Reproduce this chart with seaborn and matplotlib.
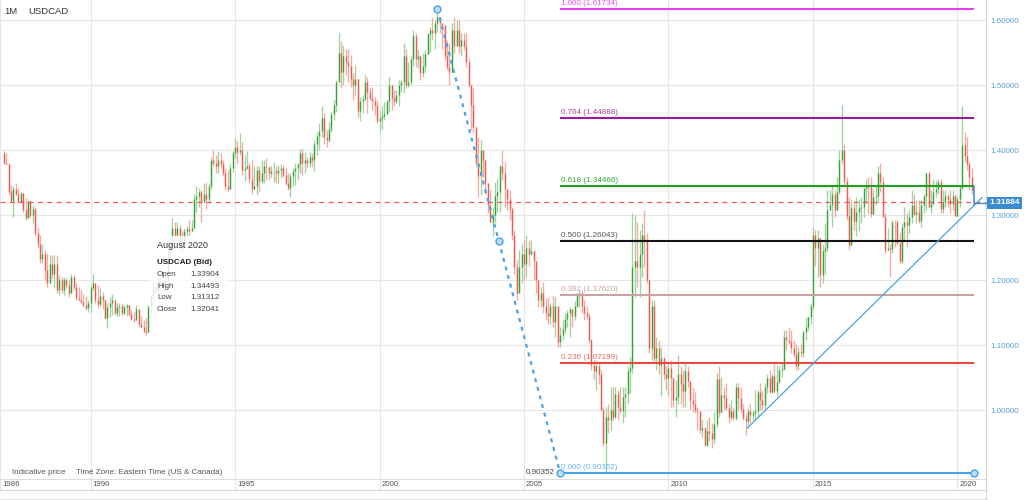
import numpy as np
import pandas as pd
import matplotlib
matplotlib.use("Agg")
import matplotlib.pyplot as plt
import seaborn as sns
from matplotlib.lines import Line2D
from matplotlib.patches import Rectangle
import matplotlib.transforms as mtransforms

sns.set_theme(style="white")
plt.rcParams["font.family"] = ["Liberation Sans", "DejaVu Sans"]

# ---------------- data (monthly USDCAD, Jan 1987 .. Aug 2020) ----------------
first_open = 1.395
highs = [
    1.398, 1.396, 1.380, 1.346, 1.344, 1.349, 1.341, 1.336, 1.331, 1.326, 1.323, 1.323,  # 1987
    1.315, 1.312, 1.282, 1.269, 1.256, 1.246, 1.241, 1.238, 1.238, 1.238, 1.238, 1.208,  # 1988
    1.205, 1.205, 1.203, 1.200, 1.210, 1.208, 1.195, 1.190, 1.185, 1.178, 1.175, 1.170,  # 1989
    1.192, 1.210, 1.196, 1.192, 1.188, 1.182, 1.167, 1.164, 1.174, 1.179, 1.170, 1.164,  # 1990
    1.164, 1.164, 1.162, 1.163, 1.156, 1.154, 1.151, 1.162, 1.149, 1.144, 1.139, 1.141,  # 1991
    1.161, 1.179, 1.195, 1.195, 1.205, 1.205, 1.200, 1.205, 1.255, 1.265, 1.295, 1.290,  # 1992
    1.290, 1.285, 1.276, 1.280, 1.283, 1.293, 1.292, 1.333, 1.344, 1.341, 1.339, 1.349,  # 1993
    1.349, 1.350, 1.390, 1.400, 1.392, 1.398, 1.395, 1.385, 1.372, 1.370, 1.378, 1.398,  # 1994
    1.418, 1.414, 1.426, 1.412, 1.393, 1.399, 1.380, 1.385, 1.375, 1.375, 1.375, 1.385,  # 1995
    1.385, 1.388, 1.375, 1.376, 1.382, 1.376, 1.377, 1.379, 1.377, 1.372, 1.364, 1.364,  # 1996
    1.372, 1.380, 1.380, 1.402, 1.403, 1.397, 1.390, 1.397, 1.395, 1.415, 1.428, 1.441,  # 1997
    1.467, 1.457, 1.431, 1.443, 1.459, 1.477, 1.508, 1.580, 1.567, 1.561, 1.556, 1.556,  # 1998
    1.546, 1.518, 1.531, 1.503, 1.482, 1.485, 1.515, 1.513, 1.497, 1.497, 1.482, 1.477,  # 1999
    1.462, 1.467, 1.474, 1.477, 1.513, 1.497, 1.492, 1.492, 1.508, 1.508, 1.564, 1.555,  # 2000
    1.536, 1.544, 1.585, 1.580, 1.556, 1.546, 1.549, 1.554, 1.580, 1.590, 1.605, 1.600,  # 2001
    1.617, 1.603, 1.595, 1.580, 1.569, 1.564, 1.595, 1.605, 1.600, 1.600, 1.580, 1.580,  # 2002
    1.580, 1.541, 1.497, 1.495, 1.433, 1.420, 1.415, 1.397, 1.365, 1.344, 1.338, 1.313,  # 2003
    1.351, 1.356, 1.377, 1.400, 1.382, 1.338, 1.338, 1.313, 1.277, 1.231, 1.246, 1.256,  # 2004
    1.262, 1.269, 1.262, 1.262, 1.246, 1.226, 1.195, 1.190, 1.197, 1.172, 1.174, 1.164,  # 2005
    1.177, 1.174, 1.133, 1.128, 1.138, 1.149, 1.154, 1.159, 1.151, 1.167, 1.180, 1.185,  # 2006
    1.185, 1.170, 1.160, 1.150, 1.110, 1.077, 1.077, 1.072, 1.062, 1.005, 1.005, 1.010,  # 2007
    1.036, 1.036, 1.036, 1.031, 1.036, 1.036, 1.036, 1.067, 1.082, 1.303, 1.300, 1.290,  # 2008
    1.277, 1.287, 1.308, 1.272, 1.200, 1.169, 1.169, 1.113, 1.108, 1.097, 1.082, 1.067,  # 2009
    1.072, 1.077, 1.046, 1.046, 1.085, 1.067, 1.062, 1.072, 1.067, 1.039, 1.036, 1.028,  # 2010
    1.005, 0.997, 0.985, 0.974, 0.985, 0.990, 0.980, 0.997, 1.057, 1.067, 1.051, 1.036,  # 2011
    1.041, 1.010, 1.015, 1.005, 1.041, 1.041, 1.036, 1.010, 0.995, 1.003, 1.010, 1.000,  # 2012
    1.031, 1.031, 1.041, 1.031, 1.041, 1.056, 1.062, 1.056, 1.072, 1.067, 1.067, 1.072,  # 2013
    1.123, 1.123, 1.128, 1.123, 1.108, 1.102, 1.097, 1.102, 1.123, 1.143, 1.143, 1.164,  # 2014
    1.282, 1.277, 1.277, 1.262, 1.256, 1.287, 1.338, 1.338, 1.344, 1.338, 1.359, 1.400,  # 2015
    1.469, 1.410, 1.359, 1.328, 1.323, 1.318, 1.328, 1.323, 1.328, 1.341, 1.356, 1.359,  # 2016
    1.359, 1.338, 1.346, 1.375, 1.380, 1.359, 1.303, 1.280, 1.256, 1.292, 1.292, 1.292,  # 2017
    1.272, 1.287, 1.313, 1.303, 1.308, 1.338, 1.333, 1.323, 1.323, 1.323, 1.333, 1.364,  # 2018
    1.367, 1.338, 1.356, 1.354, 1.356, 1.356, 1.338, 1.338, 1.333, 1.338, 1.338, 1.333,  # 2019
    1.328, 1.346, 1.467, 1.428, 1.420, 1.382, 1.372, 1.34493,                            # 2020
]
lows = [
    1.378, 1.377, 1.333, 1.320, 1.297, 1.331, 1.318, 1.328, 1.305, 1.292, 1.305, 1.297,  # 1987
    1.287, 1.268, 1.250, 1.226, 1.226, 1.200, 1.190, 1.205, 1.203, 1.187, 1.180, 1.177,  # 1988
    1.180, 1.177, 1.187, 1.174, 1.180, 1.185, 1.169, 1.169, 1.164, 1.159, 1.154, 1.151,  # 1989
    1.151, 1.185, 1.165, 1.157, 1.160, 1.155, 1.140, 1.126, 1.143, 1.146, 1.146, 1.144,  # 1990
    1.144, 1.146, 1.146, 1.144, 1.144, 1.138, 1.136, 1.138, 1.128, 1.126, 1.118, 1.115,  # 1991
    1.136, 1.150, 1.165, 1.180, 1.182, 1.185, 1.185, 1.182, 1.195, 1.225, 1.245, 1.262,  # 1992
    1.256, 1.250, 1.246, 1.257, 1.260, 1.270, 1.277, 1.287, 1.305, 1.313, 1.290, 1.328,  # 1993
    1.310, 1.318, 1.340, 1.375, 1.364, 1.365, 1.372, 1.360, 1.339, 1.336, 1.348, 1.366,  # 1994
    1.388, 1.378, 1.392, 1.362, 1.352, 1.371, 1.349, 1.333, 1.341, 1.331, 1.335, 1.350,  # 1995
    1.349, 1.354, 1.354, 1.358, 1.351, 1.349, 1.350, 1.357, 1.359, 1.346, 1.339, 1.328,  # 1996
    1.344, 1.346, 1.354, 1.365, 1.362, 1.364, 1.372, 1.374, 1.374, 1.367, 1.392, 1.400,  # 1997
    1.420, 1.410, 1.405, 1.413, 1.428, 1.446, 1.459, 1.505, 1.495, 1.500, 1.515, 1.505,  # 1998
    1.497, 1.477, 1.485, 1.451, 1.444, 1.457, 1.477, 1.457, 1.477, 1.462, 1.454, 1.441,  # 1999
    1.428, 1.433, 1.446, 1.457, 1.459, 1.462, 1.467, 1.472, 1.467, 1.490, 1.487, 1.495,  # 2000
    1.497, 1.500, 1.530, 1.528, 1.526, 1.508, 1.513, 1.520, 1.551, 1.551, 1.569, 1.556,  # 2001
    1.582, 1.580, 1.556, 1.538, 1.523, 1.500, 1.531, 1.549, 1.564, 1.549, 1.544, 1.554,  # 2002
    1.528, 1.497, 1.431, 1.426, 1.374, 1.328, 1.331, 1.359, 1.333, 1.303, 1.292, 1.267,  # 2003
    1.290, 1.305, 1.305, 1.354, 1.313, 1.308, 1.292, 1.262, 1.210, 1.169, 1.180, 1.195,  # 2004
    1.200, 1.205, 1.221, 1.239, 1.200, 1.180, 1.159, 1.159, 1.149, 1.138, 1.133, 1.133,  # 2005
    1.128, 1.113, 1.097, 1.097, 1.108, 1.118, 1.128, 1.113, 1.128, 1.138, 1.159, 1.159,  # 2006
    1.149, 1.138, 1.140, 1.103, 1.062, 1.046, 1.031, 1.040, 1.000, 0.945, 0.90352, 0.964,  # 2007
    0.969, 0.985, 0.987, 0.985, 0.995, 0.980, 0.990, 1.010, 1.026, 1.057, 1.174, 1.190,  # 2008
    1.174, 1.205, 1.220, 1.195, 1.087, 1.077, 1.075, 1.061, 1.056, 1.021, 1.046, 1.031,  # 2009
    1.021, 1.005, 1.005, 0.990, 1.010, 1.010, 1.005, 1.005, 1.036, 1.000, 0.997, 0.995,  # 2010
    0.969, 0.964, 0.958, 0.944, 0.944, 0.953, 0.941, 0.950, 0.974, 0.990, 0.995, 1.000,  # 2011
    1.000, 0.980, 0.985, 0.985, 0.985, 1.000, 0.995, 0.985, 0.962, 0.972, 0.980, 0.984,  # 2012
    0.985, 0.990, 1.000, 1.000, 1.000, 1.026, 1.026, 1.026, 1.026, 1.021, 1.041, 1.051,  # 2013
    1.062, 1.092, 1.102, 1.087, 1.082, 1.062, 1.062, 1.082, 1.082, 1.108, 1.123, 1.133,  # 2014
    1.154, 1.221, 1.205, 1.190, 1.195, 1.210, 1.244, 1.308, 1.282, 1.297, 1.318, 1.333,  # 2015
    1.379, 1.344, 1.292, 1.246, 1.256, 1.277, 1.267, 1.277, 1.287, 1.297, 1.318, 1.303,  # 2016
    1.297, 1.303, 1.315, 1.318, 1.336, 1.297, 1.241, 1.246, 1.205, 1.241, 1.251, 1.256,  # 2017
    1.226, 1.226, 1.262, 1.251, 1.272, 1.287, 1.300, 1.287, 1.287, 1.282, 1.303, 1.308,  # 2018
    1.313, 1.303, 1.318, 1.328, 1.333, 1.303, 1.303, 1.313, 1.313, 1.303, 1.308, 1.298,  # 2019
    1.298, 1.313, 1.338, 1.382, 1.370, 1.338, 1.333, 1.31312,                            # 2020
]
closes = [
    1.380, 1.379, 1.335, 1.322, 1.340, 1.333, 1.320, 1.334, 1.307, 1.295, 1.321, 1.300,  # 1987
    1.310, 1.272, 1.255, 1.232, 1.240, 1.215, 1.195, 1.225, 1.210, 1.225, 1.185, 1.200,  # 1988
    1.185, 1.200, 1.192, 1.180, 1.205, 1.190, 1.172, 1.170, 1.166, 1.162, 1.157, 1.165,  # 1989
    1.188, 1.195, 1.170, 1.163, 1.175, 1.170, 1.142, 1.158, 1.165, 1.170, 1.150, 1.158,  # 1990
    1.160, 1.150, 1.158, 1.161, 1.148, 1.140, 1.138, 1.155, 1.132, 1.128, 1.122, 1.120,  # 1991
    1.158, 1.175, 1.190, 1.185, 1.200, 1.195, 1.190, 1.200, 1.245, 1.250, 1.280, 1.270,  # 1992
    1.280, 1.258, 1.250, 1.275, 1.278, 1.275, 1.280, 1.325, 1.330, 1.335, 1.320, 1.333,  # 1993
    1.325, 1.345, 1.385, 1.380, 1.375, 1.385, 1.378, 1.365, 1.345, 1.340, 1.372, 1.395,  # 1994
    1.405, 1.397, 1.400, 1.370, 1.372, 1.375, 1.355, 1.340, 1.345, 1.370, 1.352, 1.365,  # 1995
    1.375, 1.374, 1.364, 1.367, 1.368, 1.365, 1.370, 1.372, 1.362, 1.350, 1.342, 1.360,  # 1996
    1.368, 1.372, 1.378, 1.395, 1.380, 1.385, 1.380, 1.390, 1.384, 1.410, 1.422, 1.430,  # 1997
    1.450, 1.420, 1.415, 1.433, 1.455, 1.470, 1.505, 1.550, 1.520, 1.545, 1.535, 1.530,  # 1998
    1.510, 1.500, 1.510, 1.460, 1.475, 1.478, 1.505, 1.490, 1.480, 1.475, 1.470, 1.445,  # 1999
    1.450, 1.452, 1.455, 1.475, 1.500, 1.480, 1.475, 1.485, 1.500, 1.505, 1.545, 1.500,  # 2000
    1.505, 1.540, 1.575, 1.540, 1.545, 1.518, 1.530, 1.548, 1.578, 1.585, 1.580, 1.595,  # 2001
    1.605, 1.595, 1.592, 1.545, 1.528, 1.520, 1.585, 1.560, 1.585, 1.560, 1.570, 1.560,  # 2002
    1.535, 1.500, 1.470, 1.435, 1.380, 1.360, 1.400, 1.385, 1.350, 1.315, 1.290, 1.300,  # 2003
    1.330, 1.335, 1.375, 1.365, 1.340, 1.325, 1.310, 1.270, 1.220, 1.180, 1.220, 1.240,  # 2004
    1.225, 1.250, 1.240, 1.245, 1.230, 1.200, 1.170, 1.180, 1.160, 1.150, 1.145, 1.160,  # 2005
    1.135, 1.160, 1.105, 1.115, 1.125, 1.140, 1.150, 1.155, 1.145, 1.160, 1.175, 1.180,  # 2006
    1.160, 1.150, 1.145, 1.108, 1.070, 1.060, 1.068, 1.055, 1.000, 0.950, 0.990, 0.985,  # 2007
    1.000, 0.990, 1.025, 1.005, 0.998, 1.020, 1.025, 1.060, 1.065, 1.220, 1.230, 1.220,  # 2008
    1.240, 1.270, 1.260, 1.200, 1.095, 1.160, 1.080, 1.095, 1.070, 1.080, 1.055, 1.050,  # 2009
    1.065, 1.050, 1.015, 1.020, 1.055, 1.040, 1.030, 1.060, 1.045, 1.015, 1.010, 1.000,  # 2010
    0.998, 0.970, 0.972, 0.946, 0.968, 0.965, 0.955, 0.979, 1.048, 0.997, 1.023, 1.019,  # 2011
    1.003, 0.990, 0.998, 0.988, 1.035, 1.018, 1.002, 0.987, 0.983, 0.999, 0.993, 0.995,  # 2012
    0.998, 1.028, 1.016, 1.008, 1.036, 1.050, 1.027, 1.052, 1.030, 1.043, 1.062, 1.063,  # 2013
    1.113, 1.107, 1.105, 1.096, 1.085, 1.067, 1.090, 1.087, 1.120, 1.128, 1.143, 1.160,  # 2014
    1.270, 1.250, 1.265, 1.207, 1.244, 1.249, 1.308, 1.316, 1.332, 1.307, 1.335, 1.384,  # 2015
    1.400, 1.352, 1.298, 1.254, 1.311, 1.291, 1.305, 1.311, 1.312, 1.341, 1.344, 1.343,  # 2016
    1.302, 1.328, 1.330, 1.365, 1.351, 1.297, 1.246, 1.249, 1.248, 1.290, 1.289, 1.257,  # 2017
    1.230, 1.282, 1.289, 1.284, 1.297, 1.315, 1.301, 1.305, 1.291, 1.315, 1.329, 1.364,  # 2018
    1.313, 1.317, 1.336, 1.340, 1.351, 1.309, 1.320, 1.330, 1.325, 1.317, 1.329, 1.298,  # 2019
    1.324, 1.342, 1.407, 1.391, 1.378, 1.358, 1.33904, 1.32041,                          # 2020
]

start_year = 1987
year_ticks = [1990, 1995, 2000, 2005, 2010, 2015, 2020]
first_tick_label = "1986"
price_ticks = [1.0, 1.1, 1.2, 1.3, 1.4, 1.5, 1.6]

fib_ratios = [1.000, 0.764, 0.618, 0.500, 0.382, 0.236, 0.000]
fib_prices = [1.61734, 1.44888, 1.34466, 1.26043, 1.17620, 1.07199, 0.90352]
fib_colors = ["#f03cf0", "#9a1a9a", "#1ea01e", "#151515", "#c9a3a3", "#e8483f", "#4ba3e3"]
fib_label_colors = ["#f050f0", "#a040a0", "#30a830", "#555555", "#c9a3a3", "#ea6a62", "#6ab4e8"]
swing_high_month = 180      # Jan 2002
swing_low_month = 231       # anchor of the retracement tool
fib_end_month = 403
trend_months = [308.7, 406.3]
trend_values = [0.972, 1.327]
last_bid = 1.31884

tooltip_title = "August 2020"
tooltip_symbol = "USDCAD (Bid)"
tooltip_fields = ["Open", "High", "Low", "Close"]

# ---------------- frame ----------------
n = len(closes)
opens = [first_open] + closes[:-1]
df = pd.DataFrame({"m": np.arange(n), "open": opens, "high": highs,
                   "low": lows, "close": closes})
df["top"] = df[["high", "open", "close"]].max(axis=1)
df["bot"] = df[["low", "open", "close"]].min(axis=1)
df["up"] = df["close"] >= df["open"]

W, H = 1024, 500
PX_PER_M = 2.408
PX_PER_P = 650.0
TOP_P = 1.6308

fig = plt.figure(figsize=(W / 100, H / 100), dpi=100)
ax = fig.add_axes([0, 10 / H, 986 / W, 490 / H])
x0 = -1.6
ax.set_xlim(x0, x0 + 986 / PX_PER_M)
ax.set_ylim(TOP_P - 490 / PX_PER_P, TOP_P)
ax.set_facecolor("white")

# grid
xt = [x0] + [(y - start_year) * 12 for y in year_ticks]
ax.set_xticks(xt)
ax.set_xticklabels([first_tick_label] + [str(y) for y in year_ticks])
ax.set_yticks(price_ticks)
ax.set_yticklabels([f"{v:.5f}" for v in price_ticks])
ax.grid(True, color="#e6e6e6", lw=0.8)
ax.set_axisbelow(True)
ax.yaxis.tick_right()
ax.tick_params(axis="y", length=0, pad=3.0, labelsize=5.8, labelcolor="#5a9fd8",
               right=True, left=False, labelright=True, labelleft=False)
ax.tick_params(axis="x", length=0, pad=-3.6, labelsize=5.7, labelcolor="#555555")
for lab in ax.get_xticklabels():
    lab.set_ha("left")
    lab.set_va("center")
    lab.set_transform(lab.get_transform() +
                      mtransforms.ScaledTranslation(2 / 100, 0, fig.dpi_scale_trans))
for s in ["left", "top"]:
    ax.spines[s].set_visible(False)
for s in ["right", "bottom"]:
    ax.spines[s].set_color("#d6d6d6")
    ax.spines[s].set_linewidth(0.8)
ax.axhline(TOP_P - 479 / PX_PER_P, color="#dcdcdc", lw=0.8, zorder=1)

# bars
body = df.iloc[:-1]
for is_up, wick_c, body_c in [(True, "#9fd39f", "#35a335"), (False, "#f5aaa3", "#ec5a50")]:
    sub = body[body["up"] == is_up]
    ax.vlines(sub["m"], sub["bot"], sub["top"], colors=wick_c, lw=0.95, zorder=3)
    ax.vlines(sub["m"], sub["open"], sub["close"], colors=body_c, lw=0.95, zorder=3)
last = df.iloc[-1]
ax.vlines([last["m"]], [last["bot"]], [last["top"]], colors="#4a90d9", lw=1.2, zorder=4)

# last close dashed line
ax.axhline(closes[-1], color="#f05a5a", lw=0.9, ls=(0, (4, 3.5)), zorder=4)

# fibonacci retracement
for r, p, c, lc in zip(fib_ratios, fib_prices, fib_colors, fib_label_colors):
    ax.hlines(p, swing_low_month, fib_end_month, colors=c, lw=1.5, zorder=5)
    ax.annotate(f"{r:.3f} ({p:.5f})", xy=(swing_low_month, p), xytext=(1, 1.5),
                textcoords="offset points", ha="left", va="bottom", fontsize=5.8,
                color=lc, zorder=6)
sns.lineplot(x=[swing_high_month, swing_low_month], y=[fib_prices[0], fib_prices[-1]],
             ax=ax, color="#4ba3e3", lw=1.6, ls=(0, (1.8, 2.2)), zorder=6)
mid_m = (swing_high_month + swing_low_month) / 2
ax.plot([swing_high_month, mid_m, swing_low_month, fib_end_month],
        [fib_prices[0], fib_prices[3], fib_prices[-1], fib_prices[-1]],
        "o", ms=5, mfc="#b9dcf7", mec="#4ba3e3", mew=1.0, zorder=7)
ax.annotate(f"{fib_prices[-1]:.5f}", xy=(swing_low_month, fib_prices[-1]), xytext=(-4, 0.5),
            textcoords="offset points", ha="right", va="center", fontsize=5.8,
            color="#444444", zorder=6)

# trend line
sns.lineplot(x=trend_months, y=trend_values, ax=ax, color="#4ba3e3", lw=0.9, zorder=6)

# live bid label
xr = ax.get_xlim()[1]
ax.hlines(last_bid, last["m"], xr + 1, colors="#4a90d9", lw=1.0, zorder=6, clip_on=False)
ax.text(1.0 + 3 / 986, last_bid, f"{last_bid:.5f}",
        transform=mtransforms.blended_transform_factory(ax.transAxes, ax.transData),
        ha="left", va="center", color="white", fontsize=6.0, fontweight="bold",
        bbox=dict(boxstyle="square,pad=0.3", fc="#3d8bd0", ec="none"), zorder=10,
        clip_on=False)

# header / footer text
fig.text(4 / W, 1 - 12 / H, "1M", fontsize=6.8, color="#333333", va="center")
fig.text(28 / W, 1 - 12 / H, "USDCAD", fontsize=6.8, color="#333333", va="center")
fig.text(12 / W, 1 - 473 / H, "Indicative price", fontsize=5.8, color="#555555", va="center")
fig.text(76 / W, 1 - 473 / H, "Time Zone: Eastern Time (US & Canada)", fontsize=5.8,
         color="#555555", va="center")

# tooltip
fig.add_artist(Rectangle((150 / W, 1 - 321 / H), 80 / W, 85 / H, transform=fig.transFigure,
                         fc="white", ec="none", alpha=0.82, zorder=20))
fig.text(157 / W, 1 - 245 / H, tooltip_title, fontsize=6.5, color="#333333", va="center", zorder=21)
fig.text(157 / W, 1 - 262.5 / H, tooltip_symbol, fontsize=5.8, color="#222222",
         fontweight="bold", va="center", zorder=21)
tip_vals = [last["open"], last["high"], last["low"], last["close"]]
for i, (name, v) in enumerate(zip(tooltip_fields, tip_vals)):
    yy = 1 - (274.5 + i * 11.6) / H
    fig.text(157 / W, yy, name, fontsize=5.8, color="#444444", va="center", zorder=21)
    fig.text(190 / W, yy, f"{v:.5f}", fontsize=5.8, color="#444444", va="center", zorder=21)

# outer frame lines
fig.add_artist(Line2D([0, 987 / W], [1 - 499 / H] * 2, color="#e2e2e2", lw=0.8))
fig.add_artist(Line2D([986 / W] * 2, [0, 10 / H], color="#d6d6d6", lw=0.8))

fig.savefig("out.png", dpi=100)
